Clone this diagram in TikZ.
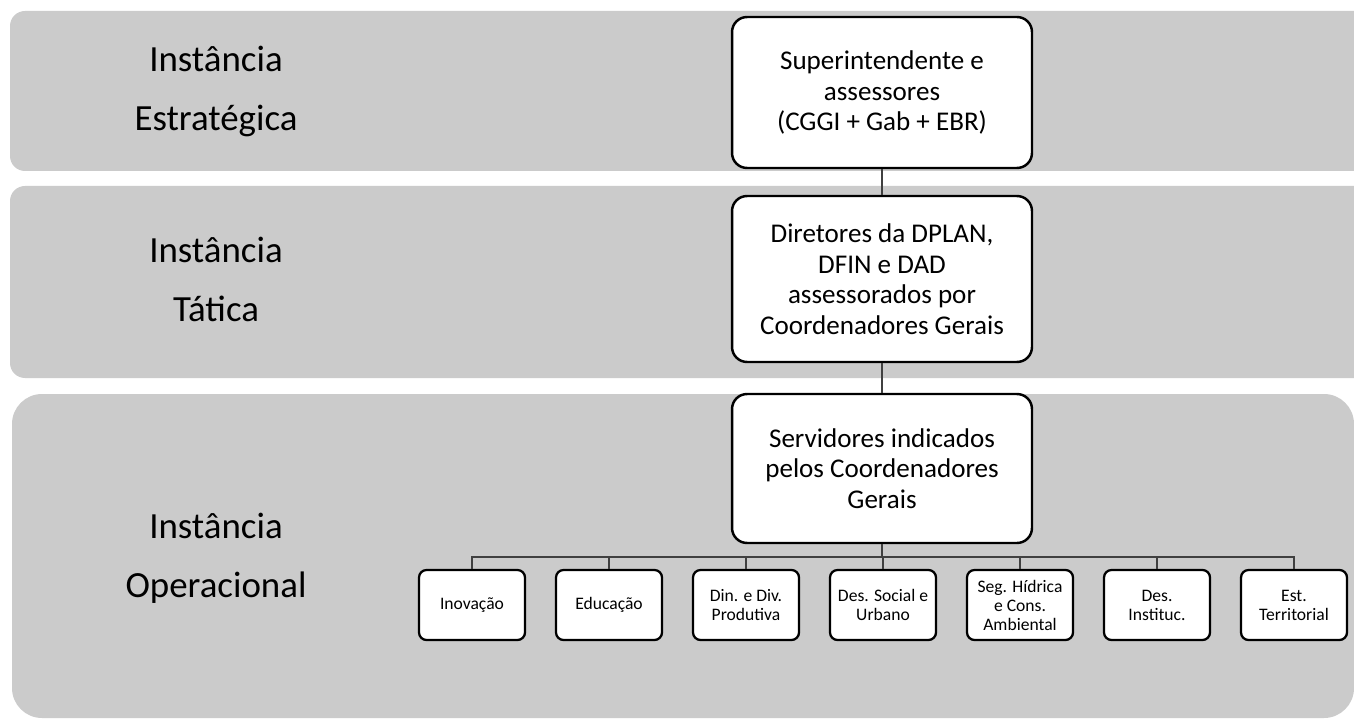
\documentclass[tikz,border=0pt]{standalone}
\usepackage{fontspec}
\setmainfont{Carlito}
\usepackage{xcolor}
\usetikzlibrary{positioning}

\definecolor{bandgray}{HTML}{CBCBCB}

\tikzset{
  band/.style={fill=bandgray, draw=none},
  lvl/.style={font=\fontsize{21}{33.6}\selectfont, align=center, inner sep=0pt},
  bigbox/.style={draw, line width=1.4pt, fill=white, rounded corners=0.3cm,
    minimum width=6cm, align=center, inner sep=0pt,
    font=\fontsize{15.4}{17.4}\selectfont},
  opbox/.style={draw, line width=1.3pt, fill=white, rounded corners=0.15cm,
    minimum width=2.12cm, minimum height=1.4cm, align=center, inner sep=0pt,
    font=\fontsize{10}{10.8}\selectfont},
  link/.style={draw=black!75, line width=0.8pt}
}

\begin{document}
\begin{tikzpicture}[x=0.02cm, y=-0.02cm]

  \useasboundingbox (0,0) rectangle (1354,719);
  \clip (0,0) rectangle (1354,719);

  % Bands
  \fill[band, rounded corners=0.3cm] (10,11) rectangle (1400,171);
  \fill[band, rounded corners=0.3cm] (10,186) rectangle (1400,378);
  \fill[band, rounded corners=0.6cm] (12,394) rectangle (1354,718);

  % Level labels
  \node[lvl] (strat) at (216,91) {Instância\\Estratégica};
  \node[lvl] (tat) at (216,279) {Instância\\Tática};
  \node[lvl] (oper) at (216,558) {Instância\\Operacional};

  % Main boxes
  \node[bigbox, minimum height=3.02cm] (sup) at (882,92.5)
    {Superintendente e\\assessores\\(CGGI + Gab + EBR)};
  \node[bigbox, minimum height=3.32cm] (dir) at (882,279)
    {Diretores da DPLAN,\\DFIN e DAD\\assessorados por\\Coordenadores Gerais};
  \node[bigbox, minimum height=2.98cm] (serv) at (882,468.5)
    {Servidores indicados\\pelos Coordenadores\\Gerais};

  \draw[link] (sup) -- (dir);
  \draw[link] (dir) -- (serv);

  % Operational areas
  \coordinate (bus) at (882,557);
  \draw[link, line width=1.1pt] (serv) -- (bus);
  \foreach \txt [count=\i] in {Inovação, Educação, {Din. e Div.\\Produtiva},
      {Des. Social e\\Urbano}, {Seg. Hídrica\\e Cons.\\Ambiental},
      {Des.\\Instituc.}, {Est.\\Territorial}}
    \node[opbox] (op\i) at ({472+137*(\i-1)},605) {\txt};
  \foreach \i in {1,...,7}
    \draw[link] (op\i) |- (bus);

\end{tikzpicture}
\end{document}
